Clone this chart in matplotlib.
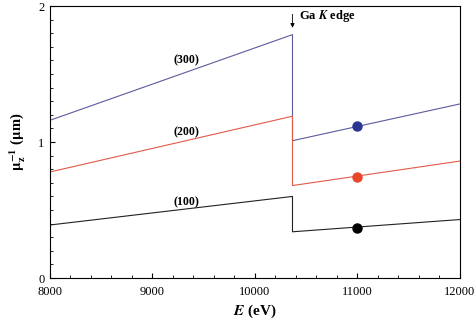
import numpy as np
import matplotlib
matplotlib.use('Agg')
from matplotlib import pyplot as plt
from matplotlib.ticker import MultipleLocator

plt.rcParams['font.family'] = ['Liberation Serif', 'DejaVu Serif']
plt.rcParams['mathtext.fontset'] = 'stix'

# Ga K edge, energies in eV
edge = 10367
e_low = [8000, edge]
e_high = [edge, 12000]

# inverse attenuation (um) for each reflection
low_300 = [1.16, 1.79]
high_300 = [1.01, 1.28]
low_200 = [0.78, 1.19]
high_200 = [0.68, 0.86]
low_100 = [0.39, 0.60]
high_100 = [0.34, 0.43]

marker_e = 11000
marker_vals = [1.12, 0.74, 0.37]

line_colors = ['#5b5b9e', '#e05a4a', '#222222']
dot_colors = ['#2c3593', '#e8472c', '#000000']
labels = ['(300)', '(200)', '(100)']
label_pos = [(9330, 1.60), (9330, 1.07), (9330, 0.56)]

fig = plt.figure(figsize=(4.74, 3.22), dpi=100)
ax = fig.add_axes([0.1055, 0.1366, 0.8645, 0.8445])

lows = [low_300, low_200, low_100]
highs = [high_300, high_200, high_100]
for lo, hi, c in zip(lows, highs, line_colors):
    ax.plot(e_low + e_high, lo + hi, color=c, lw=0.8)

for v, c in zip(marker_vals, dot_colors):
    ax.plot(marker_e, v, 'o', color=c, ms=6.5)

for t, (x, y) in zip(labels, label_pos):
    ax.text(x, y, t, fontsize=8.5, fontweight='bold', ha='center', va='center')

ax.annotate('', xy=(edge, 1.82), xytext=(edge, 1.96),
            arrowprops=dict(arrowstyle='-|>', color='black', lw=0.6,
                            mutation_scale=6))
ax.text(edge + 60, 1.925, r'Ga $\boldsymbol{K}$ edge', fontsize=9, fontweight='bold',
        ha='left', va='center')

ax.set_xlim(8000, 12000)
ax.set_ylim(0, 2)
ax.xaxis.set_major_locator(MultipleLocator(1000))
ax.xaxis.set_minor_locator(MultipleLocator(200))
ax.yaxis.set_major_locator(MultipleLocator(1))
ax.yaxis.set_minor_locator(MultipleLocator(0.1))
ax.tick_params(which='both', direction='in', top=False, right=False, labelsize=9)
ax.tick_params(axis='x', pad=6)
ax.tick_params(axis='y', pad=4)
ax.tick_params(which='major', length=3.5)
ax.tick_params(which='minor', length=2.5)

ax.set_xlabel(r'$\boldsymbol{E}$ (eV)', fontsize=11, fontweight='bold', labelpad=3)
ax.set_ylabel(r'$\mathbf{\mu_z^{-1}}$ ($\mathbf{\mu}$m)', fontsize=10.5, fontweight='bold', labelpad=7)

fig.savefig('out.png', dpi=100)
